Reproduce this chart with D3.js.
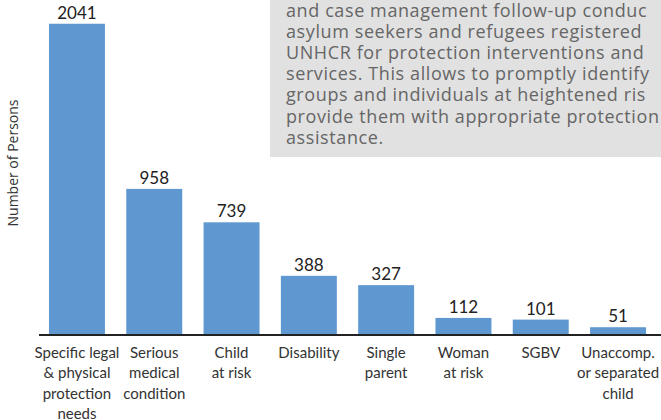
<!DOCTYPE html>
<html>
<head>
<meta charset="utf-8">
<script src="https://cdn.jsdelivr.net/npm/d3@7"></script>
<style>
  body { margin: 0; background: #fff; }
  svg { display: block; }
</style>
</head>
<body>
<svg id="chart"></svg>
<script>
const categories = [
  ['Specific legal', '& physical', 'protection', 'needs'],
  ['Serious', 'medical', 'condition'],
  ['Child', 'at risk'],
  ['Disability'],
  ['Single', 'parent'],
  ['Woman', 'at risk'],
  ['SGBV'],
  ['Unaccomp.', 'or separated', 'child']
];
const persons = [2041, 958, 739, 388, 327, 112, 101, 51];
const noteLines = [
  'and case management follow-up conduc',
  'asylum seekers and refugees registered',
  'UNHCR for protection interventions and',
  'services. This allows to promptly identify',
  'groups and individuals at heightened ris',
  'provide them with appropriate protection',
  'assistance.'
];
const yTitle = 'Number of Persons';

const w = 661;
const h = 420;
const baseY = 335;

const svg = d3.select('#chart')
  .attr('width', w)
  .attr('height', h);

const xScale = d3.scaleBand()
  .domain(d3.range(persons.length))
  .range([38.3, 656.7])
  .paddingInner(0.276)
  .paddingOuter(0.138);

const yScale = d3.scaleLinear()
  .domain([0, 2000])
  .range([baseY, 30]);

// note box in the top right
svg.append('rect')
  .attr('x', 270)
  .attr('y', 0)
  .attr('width', w - 270)
  .attr('height', 157)
  .attr('fill', '#e1e1e1');

svg.append('g')
  .selectAll('text')
  .data(noteLines)
  .enter()
  .append('text')
  .attr('x', 286)
  .attr('y', (d, i) => 16.5 + i * 21.2)
  .attr('font-family', 'Open Sans, sans-serif')
  .attr('font-size', 18)
  .attr('letter-spacing', 0.6)
  .attr('fill', '#666')
  .text(d => d);

svg.selectAll('rect.bar')
  .data(persons)
  .enter()
  .append('rect')
  .attr('class', 'bar')
  .attr('x', (d, i) => xScale(i))
  .attr('y', d => yScale(d))
  .attr('width', xScale.bandwidth())
  .attr('height', d => baseY - yScale(d))
  .attr('fill', '#5f98d1');

svg.selectAll('text.value')
  .data(persons)
  .enter()
  .append('text')
  .attr('class', 'value')
  .attr('x', (d, i) => xScale(i) + xScale.bandwidth() / 2)
  .attr('y', d => yScale(d) - 5)
  .attr('text-anchor', 'middle')
  .attr('font-family', 'Lato, sans-serif')
  .attr('font-size', 17)
  .attr('fill', '#222')
  .text(d => d);

// x axis: just the baseline and the wrapped labels
const xAxis = d3.axisBottom(xScale)
  .tickSize(0)
  .tickPadding(0)
  .tickFormat('');

const gx = svg.append('g')
  .attr('id', 'x-axis')
  .attr('transform', `translate(0, ${baseY})`)
  .call(xAxis);

gx.select('.domain').remove();
gx.append('line')
  .attr('x1', 39)
  .attr('x2', w)
  .attr('y1', 0)
  .attr('y2', 0)
  .attr('stroke', '#222')
  .attr('stroke-width', 2);

gx.selectAll('.tick')
  .append('text')
  .attr('text-anchor', 'middle')
  .attr('font-family', 'Lato, sans-serif')
  .attr('font-size', 15)
  .attr('fill', '#333')
  .selectAll('tspan')
  .data(i => categories[i])
  .enter()
  .append('tspan')
  .attr('x', 0)
  .attr('y', (d, j) => 23 + j * 20.4)
  .text(d => d);

svg.append('text')
  .attr('transform', 'translate(18, 163) rotate(-90)')
  .attr('text-anchor', 'middle')
  .attr('font-family', 'Open Sans, sans-serif')
  .attr('font-size', 14)
  .attr('fill', '#333')
  .text(yTitle);
</script>
</body>
</html>
